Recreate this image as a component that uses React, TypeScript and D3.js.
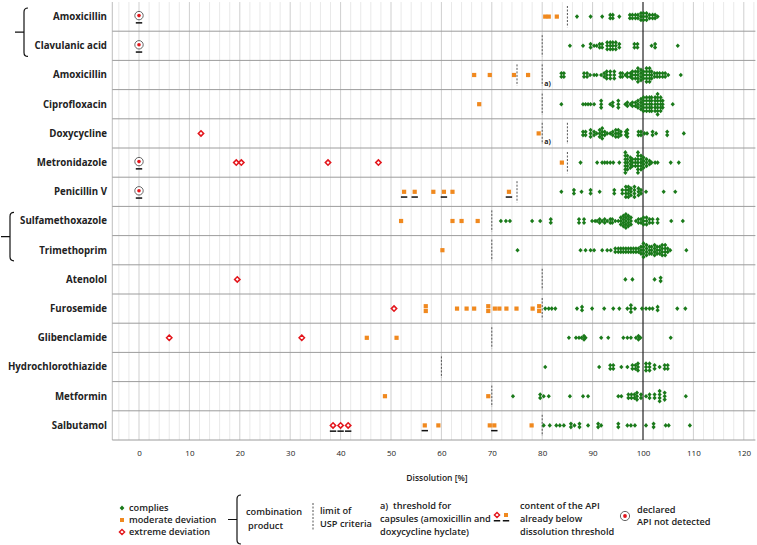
import { useEffect, useRef } from 'react'
import * as d3 from 'd3'

// rows, top to bottom
const drugs = [
  'Amoxicillin', 'Clavulanic acid', 'Amoxicillin', 'Ciprofloxacin', 'Doxycycline',
  'Metronidazole', 'Penicillin V', 'Sulfamethoxazole', 'Trimethoprim', 'Atenolol',
  'Furosemide', 'Glibenclamide', 'Hydrochlorothiazide', 'Metformin', 'Salbutamol',
]

// USP limit per row (dashed)
const limits: number[][] = [
  [85], [80], [75, 80], [80], [80, 85], [85], [75], [70], [70], [80], [80], [70], [60], [70], [80],
]
// rows whose 80 % line is the capsule threshold a)
const capsuleRows = [2, 4]
const comboGroups = [[0, 1], [7, 8]]
const notDetectedRows = [0, 1, 5, 6]

// [dissolution %, number of samples at that value]
const complies: [number, number][][] = [
  [[86.9, 1], [89.6, 1], [91.9, 1], [93.5, 2], [94, 2], [95.3, 1], [97.4, 2], [97.9, 2], [98.5, 2], [99, 2], [99.6, 3], [100.1, 3], [100.7, 3], [101.3, 2], [101.9, 2], [102.4, 2], [102.9, 1]],
  [[85.5, 1], [88.1, 1], [89.6, 2], [90.3, 1], [90.8, 1], [91.4, 2], [91.9, 2], [92.9, 3], [93.5, 3], [94, 3], [94.6, 3], [95.3, 2], [98.3, 2], [98.9, 2], [101.7, 1], [102.4, 2], [106.9, 1]],
  [[77.2, 1], [83.8, 2], [84.3, 2], [88.3, 2], [88.9, 2], [89.5, 1], [90.3, 1], [90.8, 1], [91.7, 1], [92.3, 2], [92.8, 3], [93.5, 3], [94.3, 3], [95.5, 2], [95.9, 2], [96.5, 1], [96.9, 2], [97.5, 2], [97.9, 3], [98.5, 3], [99, 5], [99.6, 4], [100.1, 3], [100.7, 5], [101.3, 5], [101.7, 3], [102.3, 2], [102.8, 2], [103.3, 2], [103.9, 2], [104.4, 2], [105, 1], [107.5, 1]],
  [[83.8, 1], [88.1, 1], [88.6, 1], [89.1, 1], [89.6, 1], [90.3, 1], [91.7, 3], [93.5, 1], [94, 2], [95.1, 3], [96.5, 1], [96.9, 2], [97.5, 1], [97.9, 2], [98.5, 2], [99, 3], [99.6, 4], [100.1, 5], [100.7, 5], [101.3, 5], [101.7, 5], [102.4, 5], [102.9, 7], [103.5, 5], [103.9, 3], [105.9, 1]],
  [[88.1, 2], [88.6, 2], [89.6, 3], [90.3, 2], [90.8, 1], [91.4, 3], [91.9, 4], [92.4, 2], [92.9, 1], [93.5, 1], [94, 2], [94.6, 3], [95.1, 3], [95.6, 2], [96.6, 2], [96.9, 3], [99.1, 2], [99.6, 2], [100.3, 1], [100.8, 1], [101.9, 2], [102.6, 1], [104.8, 2], [108.1, 1]],
  [[87.6, 1], [90.9, 1], [91.9, 1], [92.4, 1], [92.9, 1], [93.5, 1], [94.1, 1], [95.3, 1], [96.5, 7], [96.9, 5], [97.5, 4], [97.9, 3], [98.5, 3], [99, 7], [99.6, 5], [100.1, 4], [100.7, 3], [101.3, 2], [101.7, 1], [102.4, 1], [102.9, 1], [105.5, 1], [107.1, 1]],
  [[83.8, 1], [86.3, 2], [87.8, 1], [89.6, 2], [91.4, 1], [94.3, 2], [95.9, 2], [96.6, 4], [97.1, 4], [97.6, 3], [98.3, 4], [99.1, 3], [99.6, 2], [100.6, 1], [104.1, 1], [106.4, 1]],
  [[71.8, 1], [72.8, 1], [73.6, 1], [78, 1], [79.6, 1], [81.7, 2], [87.3, 2], [88.3, 2], [89.9, 1], [90.5, 1], [90.9, 1], [91.4, 2], [91.9, 1], [92.4, 2], [92.9, 1], [93.5, 2], [93.9, 2], [94.5, 1], [95.1, 1], [95.6, 3], [96.1, 4], [96.6, 5], [97.1, 4], [97.6, 3], [98.6, 1], [99.1, 2], [99.6, 2], [100.1, 3], [100.7, 3], [101.3, 2], [101.9, 2], [102.9, 2], [105.6, 1], [107.9, 1]],
  [[75.1, 1], [87.6, 1], [88.6, 1], [89.6, 1], [90.3, 1], [91.9, 1], [92.9, 1], [93.6, 1], [94.5, 2], [95.1, 2], [95.6, 2], [96.1, 2], [96.6, 2], [97.1, 2], [97.6, 2], [98.1, 2], [98.6, 2], [99.1, 2], [99.6, 3], [100.1, 5], [100.7, 4], [101.3, 3], [101.7, 3], [102.3, 4], [102.8, 3], [103.3, 3], [103.8, 4], [104.4, 4], [104.9, 2], [105.4, 1], [108.6, 1]],
  [[96.5, 1], [97.9, 1], [102.3, 1], [103.5, 2]],
  [[80.6, 1], [81.3, 1], [81.9, 1], [82.6, 1], [86.9, 1], [87.9, 2], [89.9, 1], [92.3, 1], [94.1, 1], [95.3, 1], [96.9, 1], [97.6, 3], [98.4, 1], [99.8, 1], [100.6, 1], [101.3, 1], [101.9, 1], [102.9, 2], [106.8, 1], [108.4, 1]],
  [[85.3, 1], [86.7, 1], [87.3, 1], [87.8, 1], [88.3, 2], [88.6, 1], [91.7, 1], [93.1, 1], [96.1, 1], [96.9, 1], [97.6, 1], [98.6, 1], [99.1, 2], [99.5, 1], [105.5, 1]],
  [[80.6, 1], [91.3, 1], [93.5, 2], [94.1, 2], [95.7, 1], [96.9, 1], [97.9, 2], [98.5, 2], [99, 3], [100.6, 3], [101.3, 3], [102.3, 2], [103.3, 1], [104.3, 2], [104.9, 2]],
  [[74.2, 1], [79.6, 2], [80.3, 1], [81.3, 1], [85.5, 1], [88.1, 1], [89.1, 1], [95.1, 1], [95.7, 1], [97.1, 2], [97.7, 2], [98.3, 2], [98.8, 3], [99.6, 2], [100.6, 1], [101.3, 2], [102.3, 2], [103.3, 4], [104.3, 3], [108.5, 1]],
  [[80.3, 1], [81.5, 1], [82.8, 1], [83.5, 1], [84.3, 1], [85.7, 2], [86.4, 1], [87.4, 2], [89.1, 1], [91.1, 2], [91.7, 1], [95.1, 2], [96.9, 1], [97.6, 1], [98.4, 1], [100.6, 1], [102.1, 2], [104.5, 1], [105.1, 1], [109.3, 1]],
]

const moderate: [number, number][][] = [
  [[80.6, 1], [81.3, 1], [82.9, 1]],
  [],
  [[66.5, 1], [69.6, 1], [74.4, 1], [77.2, 1]],
  [[67.5, 1]],
  [[79.3, 1]],
  [[83.9, 1]],
  [[52.6, 1], [54.7, 1], [58.4, 1], [60.5, 1], [62.2, 1], [73.4, 1]],
  [[52, 1], [62.2, 1], [64, 1], [67.2, 1]],
  [[60.2, 1]],
  [],
  [[56.9, 2], [63.1, 1], [65, 1], [66.5, 1], [69.3, 2], [70.6, 1], [71.5, 1], [72.9, 1], [74.9, 1], [78.1, 1], [79.4, 2]],
  [[45.2, 1], [51.1, 1]],
  [],
  [[48.8, 1], [69.3, 1]],
  [[56.7, 1], [59.4, 1], [69.6, 1], [70.5, 1], [77.9, 1]],
]

const extreme: number[][] = [
  [], [], [], [], [12.3], [19.3, 20.3, 37.5, 47.5], [], [], [], [19.5], [50.6], [6, 32.3], [], [], [38.5, 40, 41.5],
]

// API content already below dissolution threshold (underlined marks)
const belowModerate: number[][] = [
  [], [], [], [], [], [], [52.6, 54.7, 60.5, 73.4], [], [], [], [], [], [], [], [56.7, 70.5],
]
const belowExtreme: number[][] = [
  [], [], [], [], [], [], [], [], [], [], [], [], [], [], [38.5, 40, 41.5],
]

const xTicks = d3.range(0, 121, 10)

const GREEN = '#1a7a1a'
const ORANGE = '#f0891f'
const RED = '#e3161c'
const FONT = '"Open Sans", sans-serif'
// x position of each combination bracket
const bracketX = [24, 10]

const App = () => {
  const svgRef = useRef<SVGSVGElement>(null)

  useEffect(() => {
    if (!svgRef.current) return
    const svg = d3.select(svgRef.current)
    svg.selectAll('*').remove()

    const x = d3.scaleLinear().domain([0, 100]).range([139, 643])
    const xMin = -5.3
    const xMax = 122.3
    const y = d3.scaleBand<number>().domain(d3.range(drugs.length)).range([2, 440])
    const rowH = y.bandwidth()
    const mid = (i: number) => y(i)! + rowH / 2
    const plotTop = y(0)!
    const plotBottom = y(drugs.length - 1)! + rowH

    const diamond = (g: d3.Selection<any, any, any, any>, cx: number, cy: number, w: number, h: number) =>
      g.append('path').attr('d', `M${cx},${cy - h}L${cx + w},${cy}L${cx},${cy + h}L${cx - w},${cy}Z`)

    // grid
    const grid = svg.append('g')
    d3.range(-4, 123, 2).forEach(v => {
      grid.append('line')
        .attr('x1', x(v)).attr('x2', x(v))
        .attr('y1', plotTop).attr('y2', plotBottom)
        .attr('stroke', v % 10 === 0 ? '#cfcfcf' : '#e9e9e9')
        .attr('stroke-width', 1)
    })
    grid.append('line')
      .attr('x1', x(xMin)).attr('x2', x(xMin))
      .attr('y1', plotTop).attr('y2', plotBottom)
      .attr('stroke', '#bdbdbd')

    // row separators
    d3.range(1, drugs.length + 1).forEach(i => {
      const yy = i < drugs.length ? y(i)! : plotBottom
      svg.append('line')
        .attr('x1', x(xMin)).attr('x2', x(xMax))
        .attr('y1', yy).attr('y2', yy)
        .attr('stroke', '#9c9c9c').attr('stroke-width', 1)
    })

    // 100 % line
    svg.append('line')
      .attr('x1', x(100)).attr('x2', x(100))
      .attr('y1', plotTop).attr('y2', plotBottom)
      .attr('stroke', '#111').attr('stroke-width', 1)

    // usp limits
    limits.forEach((vals, i) => {
      vals.forEach(v => {
        svg.append('line')
          .attr('x1', x(v)).attr('x2', x(v))
          .attr('y1', y(i)! + 4).attr('y2', y(i)! + rowH - 4)
          .attr('stroke', '#555').attr('stroke-width', 1)
          .attr('stroke-dasharray', '2,1.5')
      })
    })
    capsuleRows.forEach(i => {
      svg.append('text')
        .attr('x', x(80) + 2).attr('y', y(i)! + rowH - 4)
        .style('font-family', FONT).style('font-size', '7px').style('font-weight', 'bold')
        .style('fill', '#222')
        .text('a)')
    })

    const marks = svg.append('g')

    // complies
    complies.forEach((row, i) => {
      row.forEach(([v, n]) => {
        for (let k = 0; k < n; k++) {
          const cy = mid(i) + (k - (n - 1) / 2) * 3.4
          diamond(marks, x(v), cy, 2.1, 2.3).attr('fill', GREEN)
        }
      })
    })

    // moderate deviation
    moderate.forEach((row, i) => {
      row.forEach(([v, n]) => {
        for (let k = 0; k < n; k++) {
          const cy = mid(i) + (k - (n - 1) / 2) * 4.8
          marks.append('rect')
            .attr('x', x(v) - 2.1).attr('y', cy - 2.1)
            .attr('width', 4.2).attr('height', 4.2)
            .attr('fill', ORANGE)
        }
      })
    })

    // extreme deviation
    extreme.forEach((row, i) => {
      row.forEach(v => {
        diamond(marks, x(v), mid(i), 2.7, 2.7)
          .attr('fill', '#fff').attr('stroke', RED).attr('stroke-width', 1.5)
      })
    })

    const underline = (cx: number, cy: number) =>
      marks.append('rect')
        .attr('x', cx - 3.2).attr('y', cy)
        .attr('width', 6.4).attr('height', 1.5)
        .attr('fill', '#111')

    belowModerate.forEach((row, i) => row.forEach(v => underline(x(v), mid(i) + 4.5)))
    belowExtreme.forEach((row, i) => row.forEach(v => underline(x(v), mid(i) + 5)))

    // declared API not detected
    const notDetected = (cx: number, cy: number) => {
      marks.append('circle').attr('cx', cx).attr('cy', cy).attr('r', 4.2)
        .attr('fill', '#fff').attr('stroke', '#555').attr('stroke-width', 0.9)
      marks.append('circle').attr('cx', cx).attr('cy', cy).attr('r', 1.8).attr('fill', RED)
    }
    notDetectedRows.forEach(i => {
      notDetected(x(0), mid(i) - 1)
      underline(x(0), mid(i) + 5.5)
    })

    // row labels
    drugs.forEach((d, i) => {
      svg.append('text')
        .attr('x', 107).attr('y', mid(i)).attr('dy', '0.35em')
        .attr('text-anchor', 'end')
        .style('font-family', FONT).style('font-size', '9.7px').style('font-weight', 'bold')
        .style('fill', '#222')
        .text(d)
    })

    // combination brackets
    const bracket = (bx: number, top: number, bottom: number, stub: number) => {
      const m = (top + bottom) / 2
      svg.append('path')
        .attr('d', `M${bx + 4},${top}Q${bx},${top} ${bx},${top + 4}V${bottom - 4}Q${bx},${bottom} ${bx + 4},${bottom}M${bx - stub},${m}H${bx}`)
        .attr('fill', 'none').attr('stroke', '#111').attr('stroke-width', 1.2)
    }
    comboGroups.forEach(([a, b], gi) => bracket(bracketX[gi], y(a)! + 6, y(b)! + rowH - 4, 9))

    // x axis
    const axis = svg.append('g')
      .attr('transform', `translate(0,${plotBottom})`)
      .call(d3.axisBottom(x).tickValues(xTicks).tickSize(0).tickPadding(10).tickFormat(d3.format('d')))
    axis.select('.domain').remove()
    axis.selectAll('text')
      .style('font-family', FONT).style('font-size', '8px').style('fill', '#222')

    svg.append('text')
      .attr('x', 437).attr('y', 478).attr('dy', '0.35em')
      .attr('text-anchor', 'middle')
      .style('font-family', FONT).style('font-size', '8.5px').style('font-weight', 600)
      .style('fill', '#222')
      .text('Dissolution [%]')

    // legend
    const lg = svg.append('g')
    const lText = (tx: number, ty: number, t: string) =>
      lg.append('text').attr('x', tx).attr('y', ty).attr('dy', '0.35em')
        .style('font-family', FONT).style('font-size', '9.2px').style('font-weight', 600)
        .style('fill', '#222').style('white-space', 'pre')
        .text(t)

    diamond(lg, 122, 508, 2.4, 2.6).attr('fill', GREEN)
    lText(129, 508, 'complies')
    lg.append('rect').attr('x', 120).attr('y', 518).attr('width', 4).attr('height', 4).attr('fill', ORANGE)
    lText(129, 520, 'moderate deviation')
    diamond(lg, 122, 532, 2.6, 2.6).attr('fill', '#fff').attr('stroke', RED).attr('stroke-width', 1.4)
    lText(129, 532, 'extreme deviation')

    bracket(237, 495, 544, 9)
    lText(246, 512, 'combination')
    lText(248, 526, 'product')

    lg.append('line').attr('x1', 313).attr('x2', 313).attr('y1', 503).attr('y2', 531)
      .attr('stroke', '#555').attr('stroke-dasharray', '2,1.5')
    lText(320, 511, 'limit of')
    lText(320, 524, 'USP criteria')

    lText(380, 506, 'a)  threshold for')
    lText(380, 519, 'capsules (amoxicillin and')
    lText(380, 532, 'doxycycline hyclate)')

    diamond(lg, 497, 515, 2.6, 2.6).attr('fill', '#fff').attr('stroke', RED).attr('stroke-width', 1.4)
    lg.append('rect').attr('x', 497 - 3.2).attr('y', 520).attr('width', 6.4).attr('height', 1.5).attr('fill', '#111')
    lg.append('rect').attr('x', 504).attr('y', 513).attr('width', 4).attr('height', 4).attr('fill', ORANGE)
    lg.append('rect').attr('x', 506 - 3.2).attr('y', 520).attr('width', 6.4).attr('height', 1.5).attr('fill', '#111')
    lText(520, 506, 'content of the API')
    lText(520, 519, 'already below')
    lText(520, 532, 'dissolution threshold')

    lg.append('circle').attr('cx', 625).attr('cy', 516).attr('r', 4.6)
      .attr('fill', '#fff').attr('stroke', '#555').attr('stroke-width', 0.9)
    lg.append('circle').attr('cx', 625).attr('cy', 516).attr('r', 1.9).attr('fill', RED)
    lText(637, 510, 'declared')
    lText(637, 522, 'API not detected')
  }, [])

  return (
    <svg
      ref={svgRef}
      width={757}
      height={545}
      style={{ position: 'absolute', left: 0, top: 0, background: '#fff' }}
    />
  )
}

export default App
